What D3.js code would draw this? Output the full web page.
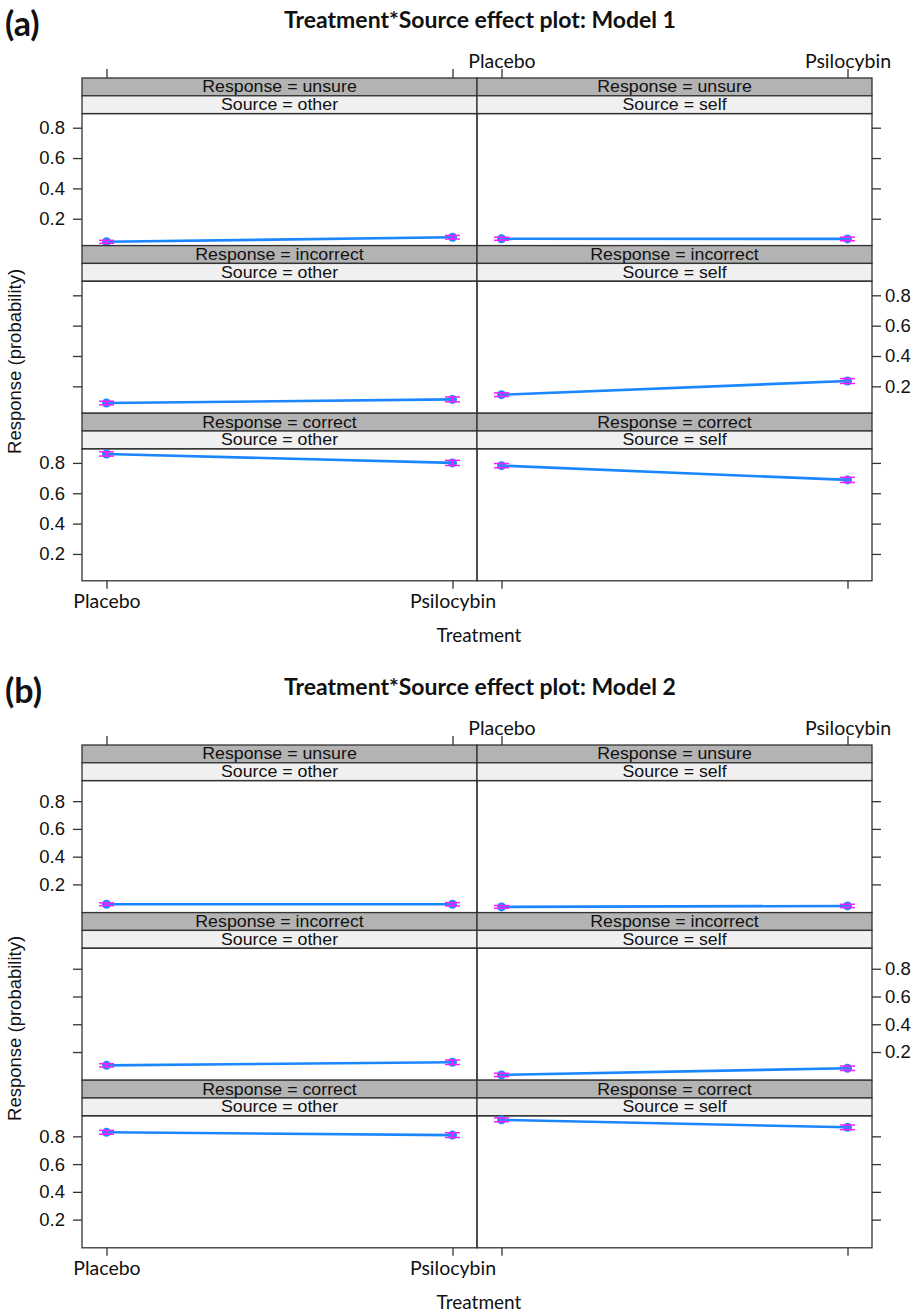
<!DOCTYPE html>
<html><head><meta charset="utf-8">
<script src="https://cdn.jsdelivr.net/npm/d3@7/dist/d3.min.js"></script>
<style>body{margin:0;background:#fff}</style>
</head><body>
<script>
// ---------------- data ----------------
const treatments = ["Placebo", "Psilocybin"];
const sources = ["other", "self"];
const responses = ["unsure", "incorrect", "correct"];
const yTicks = [0.2, 0.4, 0.6, 0.8];
const panelTags = ["(a)", "(b)"];
const plotTitles = ["Treatment*Source effect plot: Model 1", "Treatment*Source effect plot: Model 2"];
const xTitle = "Treatment";
const yTitle = "Response (probability)";

// Model 1 fitted probabilities [Placebo, Psilocybin]
const m1UnsureOther = [0.048, 0.078];
const m1UnsureSelf = [0.068, 0.067];
const m1IncorrectOther = [0.090, 0.114];
const m1IncorrectSelf = [0.145, 0.235];
const m1CorrectOther = [0.859, 0.800];
const m1CorrectSelf = [0.782, 0.688];
// Model 2 fitted probabilities [Placebo, Psilocybin]
const m2UnsureOther = [0.057, 0.057];
const m2UnsureSelf = [0.038, 0.045];
const m2IncorrectOther = [0.104, 0.126];
const m2IncorrectSelf = [0.035, 0.083];
const m2CorrectOther = [0.829, 0.809];
const m2CorrectSelf = [0.919, 0.865];
// CI half-widths [Placebo, Psilocybin]
const ciUnsure = [0.010, 0.012];
const ciIncorrect = [0.012, 0.016];
const ciCorrect = [0.014, 0.017];
// y-axis limits of each model's panels
const yLimitsM1 = [0.023, 0.893];
const yLimitsM2 = [-0.003, 0.948];

const models = [
  { tag: panelTags[0], title: plotTitles[0], lim: yLimitsM1,
    vals: { unsure: { other: m1UnsureOther, self: m1UnsureSelf },
            incorrect: { other: m1IncorrectOther, self: m1IncorrectSelf },
            correct: { other: m1CorrectOther, self: m1CorrectSelf } } },
  { tag: panelTags[1], title: plotTitles[1], lim: yLimitsM2,
    vals: { unsure: { other: m2UnsureOther, self: m2UnsureSelf },
            incorrect: { other: m2IncorrectOther, self: m2IncorrectSelf },
            correct: { other: m2CorrectOther, self: m2CorrectSelf } } }
];
const ciByResp = { unsure: ciUnsure, incorrect: ciIncorrect, correct: ciCorrect };

// ---------------- layout ----------------
const W = 916, H = 1314;
const colX = [82, 477, 872];
const frameTop = 78, stripH = 17.8, panelH = 132;
const rowH = 2 * stripH + panelH;
const modelOffset = 667;
const axisCol = "#333";
const lineCol = "#1a86ff", ptCol = "#1e8cff", ciCol = "#ff1aff";
const arial = "'Liberation Sans', Arial, sans-serif";
const cal = "Lato, 'Open Sans', sans-serif";
const stripFont = 15.6, stripStretch = 1.14;

const svg = d3.select("body").append("svg").attr("width", W).attr("height", H)
  .style("background", "#fff");

function styleAxis(g, font, size, showLabels) {
  g.select(".domain").remove();
  g.selectAll(".tick line").attr("stroke", axisCol).attr("stroke-width", 1.3);
  g.selectAll(".tick text").attr("fill", "#111").style("font-family", font)
    .style("font-size", size + "px");
  if (!showLabels) g.selectAll(".tick text").remove();
}

function stripText(G, cx, top, txt) {
  G.append("text")
    .attr("transform", `translate(${cx},${top + 0.905 * stripFont + 0.2}) scale(${stripStretch},1)`)
    .attr("text-anchor", "middle").text(txt)
    .style("font-family", arial).style("font-size", stripFont + "px").attr("fill", "#111");
}

models.forEach((m, mi) => {
  const oy = mi * modelOffset;
  const G = svg.append("g").attr("transform", `translate(0,${oy})`);

  G.append("text").attr("x", 5).attr("y", 36).text(m.tag)
    .style("font-family", cal).style("font-weight", "bold").style("font-size", "34px").attr("fill", "#111");
  G.append("text").attr("x", 480).attr("y", 28).attr("text-anchor", "middle").text(m.title)
    .style("font-family", cal).style("font-weight", "bold").style("font-size", "23px").attr("fill", "#111");

  const fTop = frameTop;
  const fBot = frameTop + 3 * rowH;

  sources.forEach((src, ci) => {
    const x0 = colX[ci], x1 = colX[ci + 1];
    const x = d3.scalePoint().domain(treatments).range([x0 + 24.5, x1 - 24.5]);

    // top axis (ticks both cols, labels col 2)
    const gt = G.append("g").attr("transform", `translate(0,${fTop})`)
      .call(d3.axisTop(x).tickSize(9).tickPadding(1.5));
    styleAxis(gt, cal, 19.5, ci === 1);
    // bottom axis (ticks both cols, labels col 1)
    const gb = G.append("g").attr("transform", `translate(0,${fBot})`)
      .call(d3.axisBottom(x).tickSize(8).tickPadding(5));
    styleAxis(gb, cal, 19.5, ci === 0);

    responses.forEach((resp, ri) => {
      const rTop = fTop + ri * rowH;
      const pTop = rTop + 2 * stripH, pBot = pTop + panelH;
      const y = d3.scaleLinear().domain(m.lim).range([pBot, pTop]);

      // strips
      G.append("rect").attr("x", x0).attr("y", rTop).attr("width", x1 - x0).attr("height", stripH)
        .attr("fill", "#b3b3b3").attr("stroke", axisCol).attr("stroke-width", 1.3);
      G.append("rect").attr("x", x0).attr("y", rTop + stripH).attr("width", x1 - x0).attr("height", stripH)
        .attr("fill", "#f0f0f0").attr("stroke", axisCol).attr("stroke-width", 1.3);
      stripText(G, (x0 + x1) / 2, rTop, "Response = " + resp);
      stripText(G, (x0 + x1) / 2, rTop + stripH, "Source = " + src);
      // panel box
      G.append("rect").attr("x", x0).attr("y", pTop).attr("width", x1 - x0).attr("height", panelH)
        .attr("fill", "none").attr("stroke", axisCol).attr("stroke-width", 1.3);

      // y axes
      if (ci === 0) {
        const ga = G.append("g").attr("transform", `translate(${x0},0)`)
          .call(d3.axisLeft(y).tickValues(yTicks).tickSize(9).tickPadding(8).tickFormat(d3.format(".1f")));
        styleAxis(ga, arial, 18.5, ri !== 1);
      } else {
        const ga = G.append("g").attr("transform", `translate(${x1},0)`)
          .call(d3.axisRight(y).tickValues(yTicks).tickSize(9).tickPadding(4).tickFormat(d3.format(".1f")));
        styleAxis(ga, arial, 18.5, ri === 1);
      }

      const vals = m.vals[resp][src];
      const ciw = ciByResp[resp];
      const pts = treatments.map((t, i) => ({ t, v: vals[i], lo: vals[i] - ciw[i], hi: vals[i] + ciw[i] }));
      const line = d3.line().x(d => x(d.t)).y(d => y(d.v));
      G.append("path").datum(pts).attr("d", line).attr("fill", "none")
        .attr("stroke", lineCol).attr("stroke-width", 2.6);
      G.selectAll(null).data(pts).enter().append("circle")
        .attr("cx", d => x(d.t)).attr("cy", d => y(d.v)).attr("r", 4.5).attr("fill", ptCol);
      const eb = G.selectAll(null).data(pts).enter().append("g").attr("stroke", ciCol).attr("stroke-width", 1.5);
      eb.append("line").attr("x1", d => x(d.t)).attr("x2", d => x(d.t)).attr("y1", d => y(d.lo)).attr("y2", d => y(d.hi));
      eb.append("line").attr("x1", d => x(d.t) - 7.5).attr("x2", d => x(d.t) + 7.5).attr("y1", d => y(d.lo)).attr("y2", d => y(d.lo));
      eb.append("line").attr("x1", d => x(d.t) - 7.5).attr("x2", d => x(d.t) + 7.5).attr("y1", d => y(d.hi)).attr("y2", d => y(d.hi));
    });
  });

  // axis titles
  G.append("text").attr("x", 479).attr("y", 642).attr("text-anchor", "middle").text(xTitle)
    .style("font-family", cal).style("font-size", "19px").attr("fill", "#111");
  G.append("text").attr("transform", `translate(21,${(fTop + fBot) / 2 + 32}) rotate(-90)`)
    .attr("text-anchor", "middle").text(yTitle)
    .style("font-family", arial).style("font-size", "18.5px").attr("fill", "#111");
});
</script>
</body></html>
